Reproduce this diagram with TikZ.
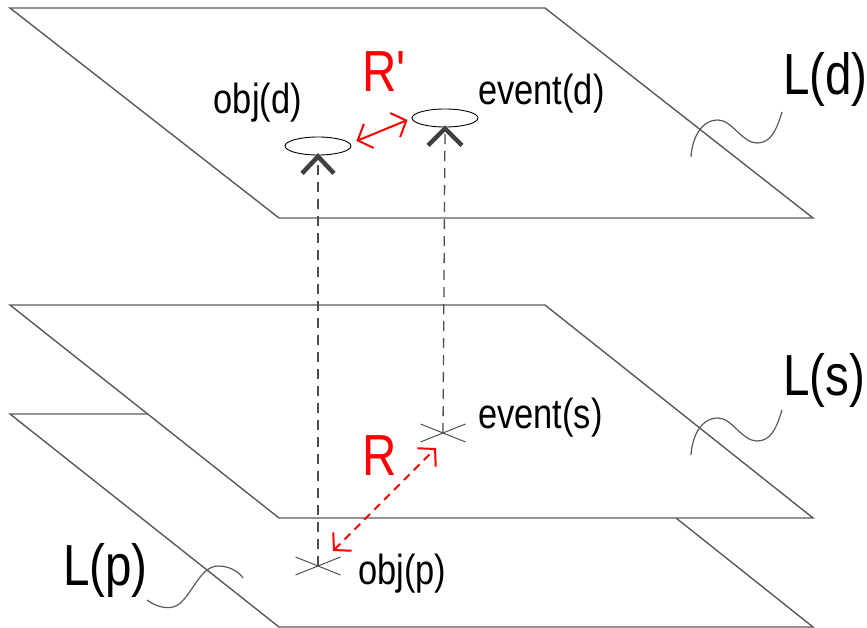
\documentclass[tikz,border=0pt]{standalone}
\usepackage{fontspec}
\setmainfont{Liberation Sans}[Ligatures=TeXOff]
\usepackage{graphicx}
\usetikzlibrary{arrows.meta,shapes.geometric,shapes.misc}
\newcommand{\narrowtext}[1]{\scalebox{0.82}[1]{#1}}

\begin{document}
\begin{tikzpicture}[x=1pt,y=-1pt,
  plane/.style={line width=1.4pt,black!65},
  lead/.style={line width=1.2pt,black!65},
  proj/.style={line width=1.3pt,black!70,dash pattern=on 10pt off 7pt},
  obj/.style={ellipse,draw,line width=0.9pt,minimum width=66pt,minimum height=18pt,inner sep=0pt},
  hit/.style={cross out,draw,black!70,line width=1pt,minimum width=44pt,minimum height=17pt,inner sep=0pt},
  hat/.style={line width=4.5pt,black!75},
  rel/.style={red,line width=2pt,{Straight Barb[length=12pt,width=26pt]}-{Straight Barb[length=12pt,width=26pt]}},
  txt/.style={font=\fontsize{42}{48}\selectfont,inner sep=0pt},
  big/.style={font=\fontsize{58}{66}\selectfont,inner sep=0pt}]
\useasboundingbox (0,0) rectangle (867,628);

% planes
\draw[plane] (10,8) -- (545,8) -- (813,218) -- (279,218) -- cycle;
\draw[plane] (10,305) -- (545,305) -- (813,518) -- (279,518) -- cycle;
\draw[plane] (148,414) -- (10,414) -- (279,627) -- (813,627) -- (676,518);

% points on the layers
\node (objd) at (318,146)[obj] {};
\node (eventd) at (445,118)[obj] {};
\node (objp) at (318,566)[hit] {};
\node (events) at (443,433)[hit] {};

\draw[proj] (objp.center) -- (objd.south);
\draw[proj] (events.center) -- (eventd.south);
\draw[hat] ([shift={(-16,18)}]objd.south) -- ([shift={(0,1)}]objd.south) -- ([shift={(16,18)}]objd.south);
\draw[hat] ([shift={(-17,18)}]eventd.south) -- ([shift={(0,1)}]eventd.south) -- ([shift={(17,18)}]eventd.south);

% relations
\draw[rel] ([shift={(5,-5)}]objd.east) -- ([shift={(-4,2)}]eventd.west);
\draw[rel,dash pattern=on 8pt off 6pt] ([shift={(15,-15)}]objp.center) -- ([shift={(-7,15)}]events.center);
\node (Rd) at (362,92)[big,red,anchor=base west] {\narrowtext{R'}};
\node (Rp) at (362,475)[big,red,anchor=base west] {\narrowtext{R}};

% labels
\node (objdl) at (302,114)[txt,anchor=base east] {\narrowtext{obj(d)}};
\node (eventdl) at (478,105)[txt,anchor=base west] {\narrowtext{event(d)}};
\node (eventsl) at (478,428)[txt,anchor=base west] {\narrowtext{event(s)}};
\node (objpl) at (358,584)[txt,anchor=base west] {\narrowtext{obj(p)}};

\node (Ld) at (783,95)[big,anchor=base west] {\narrowtext{L(d)}};
\node (Ls) at (783,395)[big,anchor=base west] {\narrowtext{L(s)}};
\node (Lp) at (63,585)[big,anchor=base west] {\narrowtext{L(p)}};
\draw[lead] (782,112) .. controls (776,132) and (770,143) .. (757,143) .. controls (742,143) and (732,120) .. (718,120) .. controls (700,120) and (692,140) .. (691,157);
\draw[lead] (782,410) .. controls (776,430) and (770,441) .. (757,441) .. controls (742,441) and (732,418) .. (718,418) .. controls (700,418) and (692,438) .. (691,455);
\draw[lead] (147,600) .. controls (155,606) and (165,609) .. (173,607) .. controls (190,603) and (198,566) .. (218,566) .. controls (230,566) and (239,572) .. (243,578);

\end{tikzpicture}
\end{document}
